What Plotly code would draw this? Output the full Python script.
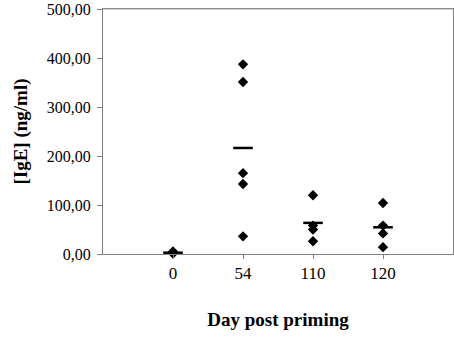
import plotly.graph_objects as go

# IgE levels by day after priming
days = ["0", "54", "110", "120"]
ige_day0 = [2, 5, 1]
ige_day54 = [387, 351, 165, 143, 36]
ige_day110 = [120, 58, 50, 26]
ige_day120 = [104, 58, 42, 14]
groups = [ige_day0, ige_day54, ige_day110, ige_day120]
y_ticks = [0, 100, 200, 300, 400, 500]

xs, ys = [], []
for i, vals in enumerate(groups):
    xs += [i + 1] * len(vals)
    ys += vals
means = [sum(v) / len(v) for v in groups]

fig = go.Figure()
fig.add_trace(go.Scatter(
    x=xs, y=ys, mode="markers", cliponaxis=False,
    marker=dict(symbol="diamond", size=8, color="black"),
    hoverinfo="y"
))
fig.add_trace(go.Scatter(
    x=list(range(1, len(days) + 1)), y=means, mode="markers", cliponaxis=False,
    marker=dict(symbol="line-ew", size=14, color="black",
                line=dict(width=2.5, color="black")),
    hoverinfo="y"
))

# top edge of the plot area
fig.add_shape(type="line", xref="paper", yref="paper", x0=0, x1=1, y0=1, y1=1,
              line=dict(color="#a0a0a0", width=1))

fig.update_layout(
    width=454, height=337,
    margin=dict(l=103, r=1, t=9, b=83, autoexpand=False),
    plot_bgcolor="white", paper_bgcolor="white",
    showlegend=False,
    separators=",.",
    font=dict(family="Liberation Serif", color="black", size=14),
    xaxis=dict(
        range=[0, 5], tickvals=[1, 2, 3, 4], ticktext=days,
        showgrid=False, zeroline=False,
        showline=True, linecolor="#808080", linewidth=1, mirror=True,
        ticks="outside", ticklen=4, tickcolor="#808080",
        tickfont=dict(size=17),
        title=dict(text="<b>Day post priming</b>", font=dict(size=19), standoff=30),
    ),
    yaxis=dict(
        range=[0, 500], tickvals=y_ticks, tickformat=".2f",
        showgrid=False, zeroline=False,
        showline=True, linecolor="#808080", linewidth=1, mirror=True,
        ticks="outside", ticklen=5, tickcolor="#808080",
        tickfont=dict(size=16), ticklabeloverflow="allow", ticklabelstandoff=3,
        title=dict(text="<b>[IgE] (ng/ml)</b>", font=dict(size=19), standoff=14),
    ),
)

fig.write_html("out.html", config={"displayModeBar": False},
               post_script="document.body.style.margin='0';")
